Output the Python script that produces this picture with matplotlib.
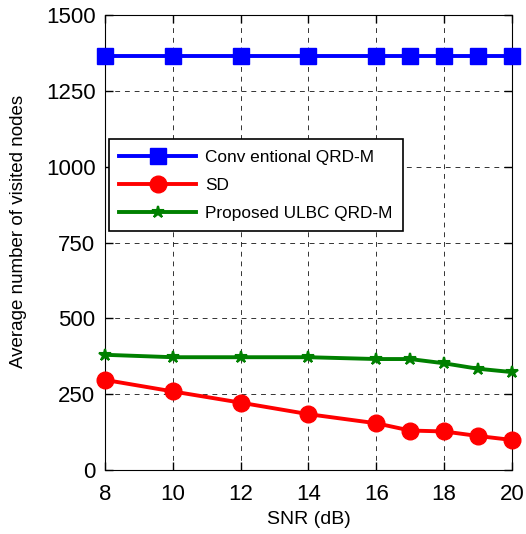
import matplotlib.pyplot as plt

plt.rcParams['font.family'] = ['Liberation Sans', 'DejaVu Sans']

snr = [8, 10, 12, 14, 16, 17, 18, 19, 20]
conventional = [1365, 1365, 1365, 1365, 1365, 1365, 1365, 1365, 1365]
sd = [297, 259, 222, 184, 154, 130, 127, 112, 99]
ulbc = [380, 372, 372, 372, 366, 366, 352, 334, 323]

fig = plt.figure(figsize=(5.26, 5.34), dpi=100)
ax = fig.add_axes([0.2, 0.12, 0.773, 0.851])

ax.plot(snr, conventional, '-s', color='blue', lw=2.8, ms=12, label='Conv entional QRD-M', clip_on=False, zorder=3)
ax.plot(snr, sd, '-o', color='red', lw=2.8, ms=12, label='SD', clip_on=False, zorder=3)
ax.plot(snr, ulbc, '-*', color='green', lw=2.8, ms=9, mew=1.5, label='Proposed ULBC QRD-M', clip_on=False, zorder=3)

ax.set_xlim(8, 20)
ax.set_ylim(0, 1500)
ax.set_xticks(range(8, 21, 2))
ax.set_yticks(range(0, 1501, 250))
ax.tick_params(direction='in', labelsize=16, top=True, right=True, length=6, width=1)
ax.tick_params(axis='x', pad=10)
ax.tick_params(axis='y', pad=7)
ax.grid(True, color='black', linestyle=(0, (5, 5)), linewidth=0.7, alpha=0.8)
ax.set_xlabel('SNR (dB)', fontsize=14)
ax.set_ylabel('Average number of visited nodes', fontsize=13.5)
ax.xaxis.set_label_coords(0.5, -0.11, transform=ax.transAxes)
ax.yaxis.set_label_coords(-0.214, 0.524, transform=ax.transAxes)
ax.xaxis.label.set_va('center')
ax.yaxis.label.set_va('center')

leg = ax.legend(loc='upper left', bbox_to_anchor=(0.0, 0.735), fontsize=12.4,
                fancybox=False, edgecolor='black', framealpha=1, handlelength=4.5,
                handletextpad=0.5, labelspacing=0.75, borderpad=0.6,
                borderaxespad=0.2)
leg.get_frame().set_linewidth(1.2)

fig.savefig('out.png', dpi=100)
